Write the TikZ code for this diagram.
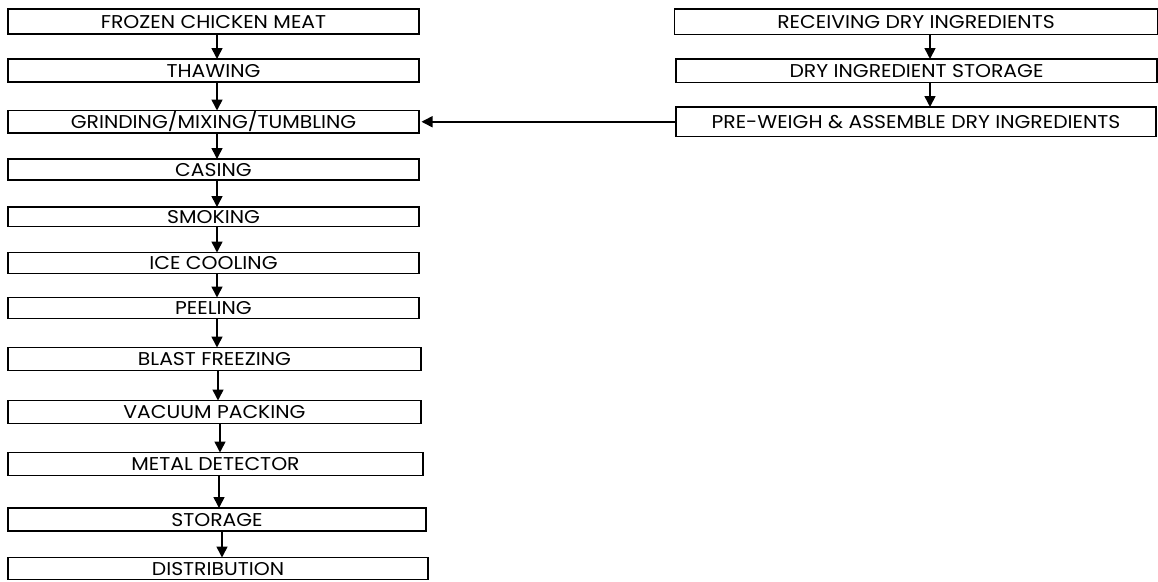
\documentclass[tikz,border=0pt]{standalone}
\usepackage{fontspec}
\setmainfont{Poppins}[FakeStretch=1.1]
\usetikzlibrary{arrows.meta}
\tikzset{
    %Define standard arrow tip
    >={Triangle[length=11pt,width=11pt]},
    %Define style for boxes
    stepbox/.style={
           rectangle,
           draw=black, line width=1.4pt,
           anchor=north west,
           outer sep=0pt,
           minimum width=411pt,
           minimum height=21pt,
           inner sep=0pt,
           text height=13pt,
           text depth=0pt,
           font=\fontsize{18.5}{18.5}\selectfont,
           text centered},
    drybox/.style={
           stepbox,
           minimum width=481pt},
    % Define arrow style
    flow/.style={
           ->,
           line width=1.6pt}
}
\begin{document}
\begin{tikzpicture}[x=1pt,y=1pt]
\useasboundingbox (0,0) rectangle (1158,-581);
 %process line
\node[stepbox, minimum height=25pt] (frozen) at (8,-9) {FROZEN CHICKEN MEAT};
\node[stepbox, minimum height=23pt] (thaw) at (8,-59) {THAWING};
\node[stepbox, minimum height=22.5pt] (grind) at (8,-110.5) {GRINDING/MIXING/TUMBLING};
\node[stepbox] (casing) at (8,-159) {CASING};
\node[stepbox, minimum height=19.5pt] (smoke) at (8,-207) {SMOKING};
\node[stepbox] (ice) at (8,-252.5) {ICE COOLING};
\node[stepbox] (peel) at (8,-297.5) {PEELING};
\node[stepbox, minimum height=23pt, minimum width=413pt] (blast) at (8,-347.5) {BLAST FREEZING};
\node[stepbox, minimum height=23pt, minimum width=413pt] (vacuum) at (8,-400.5) {VACUUM PACKING};
\node[stepbox, minimum height=23pt, minimum width=415pt] (metal) at (8,-452.5) {METAL DETECTOR};
\node[stepbox, minimum height=23pt, minimum width=418pt] (store) at (8,-508) {STORAGE};
\node[stepbox, minimum height=22pt, minimum width=420pt] (distrib) at (8,-557.5) {DISTRIBUTION};
 %dry ingredients
\node[drybox, minimum height=25.5pt, minimum width=483pt] (receive) at (674.5,-9) {RECEIVING DRY INGREDIENTS};
\node[drybox, minimum height=23.5pt] (drystore) at (676,-59) {DRY INGREDIENT STORAGE};
\node[drybox, minimum height=29.5pt, minimum width=480pt] (preweigh) at (676,-107) {PRE-WEIGH \& ASSEMBLE DRY INGREDIENTS};
 %arrows
\foreach \a/\b/\x in {frozen/thaw/209, thaw/grind/209, grind/casing/209, casing/smoke/209,
    smoke/ice/209, ice/peel/209, peel/blast/209, blast/vacuum/210, vacuum/metal/212,
    metal/store/211, store/distrib/214}
  \draw[flow] ([xshift=\x pt]\a.south west) -- ([xshift=\x pt]\a.south west |- \b.north);
\foreach \a/\b/\x in {receive/drystore/255.5, drystore/preweigh/254}
  \draw[flow] ([xshift=\x pt]\a.south west) -- ([xshift=\x pt]\a.south west |- \b.north);
\draw[flow, shorten >=2.5pt] (preweigh.west) -- (preweigh.west -| grind.east);
\end{tikzpicture}
\end{document}
